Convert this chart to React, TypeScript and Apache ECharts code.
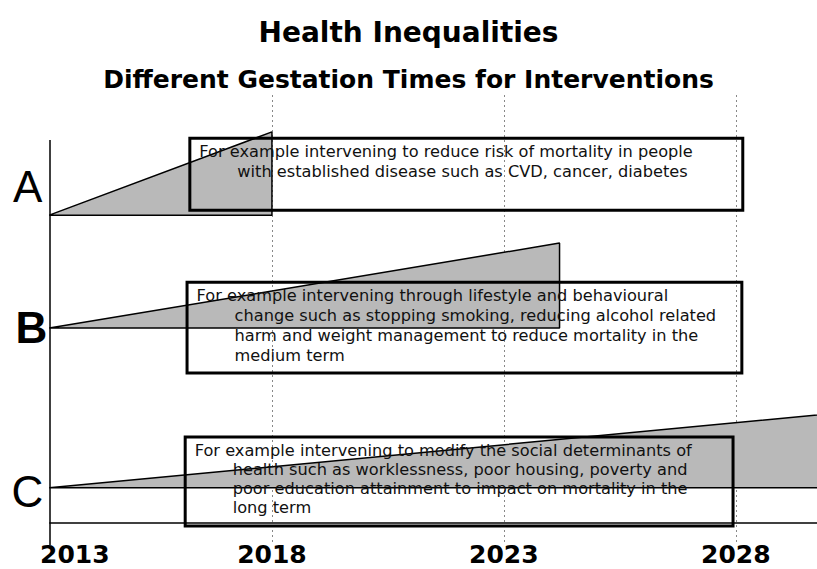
import React, { useEffect, useRef } from "react";
import * as echarts from "echarts";

// ---- data ----
const TITLE = "Health Inequalities";
const SUBTITLE = "Different Gestation Times for Interventions";
const YEAR_TICKS = [2013, 2018, 2023, 2028];
const X_MIN = 2013;
const X_MAX = 2029.75;
const ROW_NAMES = ["A", "B", "C"];
const ROW_START = [2013.2, 2013.2, 2013.2];
const ROW_END = [2018, 2024.2, 2031];
const ROW_BASE = [73.3, 48.2, 12.7];
const ROW_PEAK = [91.8, 67.1, 30.1];
const BOX_X0 = [2016.23, 2016.17, 2016.13];
const BOX_X1 = [2028.15, 2028.13, 2027.94];
const BOX_TOP = [90.4, 58.4, 24.0];
const BOX_BOTTOM = [74.4, 38.2, 4.2];
const BOX_TEXT = [
  [
    "For example intervening to reduce risk of mortality in people",
    "with established disease such as CVD, cancer, diabetes",
  ],
  [
    "For example intervening through lifestyle and behavioural",
    "change such as stopping smoking, reducing alcohol related",
    "harm and weight management to reduce mortality in the",
    "medium term",
  ],
  [
    "For example intervening to modify the social determinants of",
    "health such as worklessness, poor housing, poverty and",
    "poor education attainment to impact on mortality in the",
    "long term",
  ],
];
const AXIS_X = 2013.2;
const AXIS_TOP = 90;
const AXIS_BOTTOM = 0;
const FLOOR_Y = 4.9;

// ---- styles ----
const LETTER_DIST = [7, 2, 6];
const LETTER_OFFSET = [
  [0, -29],
  [0, -1],
  [0, 4],
];
const LETTER_WEIGHT = ["normal", "bold", "normal"];
const BOX_LINE_HEIGHT = [20, 20, 19];
const BOX_FONT = "DejaVu Sans";
const BOX_FONT_SIZE = 16.2;

export default function App() {
  const ref = useRef<HTMLDivElement>(null);
  useEffect(() => {
    if (!ref.current) return;
    const chart = echarts.init(ref.current, undefined, { renderer: "svg" });

    const series: any[] = ROW_NAMES.map((name, i) => ({
      type: "line",
      name,
      z: 3,
      silent: true,
      symbol: "circle",
      symbolSize: 0,
      showSymbol: true,
      showAllSymbol: true,
      lineStyle: { color: "#000", width: 1.5 },
      itemStyle: { color: "#000" },
      areaStyle: { color: "#b9b9b9", opacity: 1, origin: ROW_BASE[i] },
      label: { show: false },
      emphasis: { disabled: true },
      data: [
        {
          value: [ROW_START[i], ROW_BASE[i]],
          label: {
            show: true,
            formatter: name,
            position: "left",
            distance: LETTER_DIST[i],
            offset: LETTER_OFFSET[i],
            fontSize: 44,
            fontFamily: "Liberation Sans",
            fontWeight: LETTER_WEIGHT[i],
            color: "#000",
          },
        },
        [ROW_END[i], ROW_PEAK[i]],
        [ROW_END[i], ROW_BASE[i]],
        [ROW_START[i], ROW_BASE[i]],
      ],
      markArea: {
        z: 10,
        silent: true,
        itemStyle: {
          color: "rgba(0,0,0,0)",
          borderColor: "#000",
          borderWidth: 3,
        },
        label: {
          show: true,
          position: "insideTopLeft",
          distance: 5,
          formatter: BOX_TEXT[i]
            .map((l, j) => `{${j === 0 ? "a" : "b"}|${l}}`)
            .join("\n"),
          rich: {
            a: {
              fontFamily: BOX_FONT,
              fontSize: BOX_FONT_SIZE,
              color: "#111",
              lineHeight: BOX_LINE_HEIGHT[i],
              padding: [0, 0, 0, 6],
            },
            b: {
              fontFamily: BOX_FONT,
              fontSize: BOX_FONT_SIZE,
              color: "#111",
              lineHeight: BOX_LINE_HEIGHT[i],
              padding: [0, 0, 0, 44],
            },
          },
        },
        data: [
          [
            { coord: [BOX_X0[i], BOX_TOP[i]] },
            { coord: [BOX_X1[i], BOX_BOTTOM[i]] },
          ],
        ],
      },
      ...(i === 2
        ? {
            markLine: {
              z: 10,
              silent: true,
              symbol: ["none", "none"],
              label: { show: false },
              lineStyle: { color: "#000", width: 1.5, type: "solid" },
              data: [
                [{ coord: [AXIS_X, AXIS_TOP] }, { coord: [AXIS_X, AXIS_BOTTOM] }],
                [{ coord: [AXIS_X, FLOOR_Y] }, { coord: [X_MAX, FLOOR_Y] }],
              ],
            },
          }
        : {}),
    }));

    chart.setOption({
      animation: false,
      backgroundColor: "#fff",
      title: [
        {
          text: TITLE,
          left: "center",
          top: 13,
          textStyle: {
            fontFamily: "DejaVu Sans",
            fontWeight: "bold",
            fontSize: 28,
            color: "#000",
          },
        },
        {
          text: SUBTITLE,
          left: "center",
          top: 62,
          textStyle: {
            fontFamily: "DejaVu Sans",
            fontWeight: "bold",
            fontSize: 25,
            color: "#000",
          },
        },
      ],
      grid: {
        left: 40,
        right: 0,
        top: 95,
        bottom: 24,
        containLabel: false,
        outerBoundsMode: "none",
      },
      xAxis: {
        type: "value",
        min: X_MIN,
        max: X_MAX,
        interval: 5,
        axisLine: { show: false },
        axisTick: { show: false },
        splitLine: {
          show: true,
          showMinLine: false,
          showMaxLine: false,
          lineStyle: { color: "#888", type: [2, 3], width: 1 },
        },
        axisLabel: {
          show: true,
          showMaxLabel: false,
          margin: -1,
          alignMinLabel: "left",
          fontFamily: "DejaVu Sans",
          fontWeight: "bold",
          fontSize: 25,
          lineHeight: 21,
          color: "#000",
          formatter: (v: number) =>
            YEAR_TICKS.includes(Math.round(v * 100) / 100) ? String(v) : "",
        },
      },
      yAxis: {
        type: "value",
        min: 0,
        max: 100,
        show: false,
      },
      series,
    });
    return () => chart.dispose();
  }, []);
  return (
    <div
      ref={ref}
      style={{
        position: "fixed",
        left: 0,
        top: 0,
        width: 817,
        height: 569,
        background: "#fff",
      }}
    />
  );
}
